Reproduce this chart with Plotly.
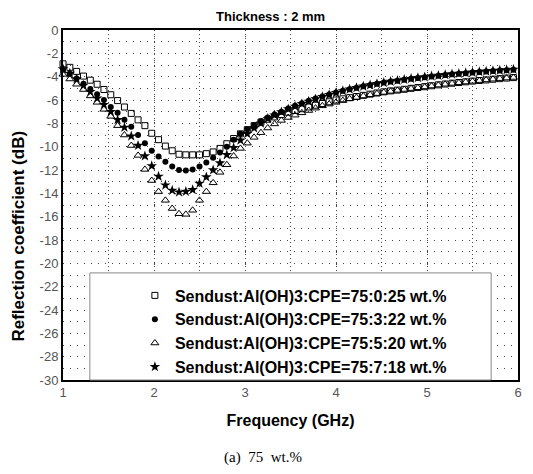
import plotly.graph_objects as go

freq = [1.000, 1.075, 1.150, 1.225, 1.300, 1.375, 1.450, 1.525, 1.600, 1.675,
        1.750, 1.825, 1.900, 1.975, 2.050, 2.125, 2.200, 2.275, 2.350, 2.425,
        2.500, 2.575, 2.650, 2.725, 2.800, 2.875, 2.950, 3.025, 3.100, 3.175,
        3.250, 3.325, 3.400, 3.475, 3.550, 3.625, 3.700, 3.775, 3.850, 3.925,
        4.000, 4.075, 4.150, 4.225, 4.300, 4.375, 4.450, 4.525, 4.600, 4.675,
        4.750, 4.825, 4.900, 4.975, 5.050, 5.125, 5.200, 5.275, 5.350, 5.425,
        5.500, 5.575, 5.650, 5.725, 5.800, 5.875, 5.950]

rc_0_25 = [-2.9, -3.2, -3.55, -3.95, -4.3, -4.65, -5.1, -5.55, -6.05, -6.6,
           -7.15, -7.7, -8.2, -8.85, -9.4, -9.95, -10.35, -10.65, -10.7, -10.7,
           -10.7, -10.6, -10.45, -10.15, -9.75, -9.3, -8.9, -8.55, -8.2, -7.9,
           -7.65, -7.45, -7.25, -7.05, -6.9, -6.75, -6.6, -6.45, -6.3, -6.15,
           -6.0, -5.9, -5.8, -5.7, -5.6, -5.5, -5.4, -5.3, -5.22, -5.15,
           -5.08, -5.0, -4.93, -4.86, -4.78, -4.7, -4.63, -4.56, -4.5, -4.44,
           -4.38, -4.33, -4.28, -4.22, -4.17, -4.12, -4.08]

rc_3_22 = [-3.4, -3.75, -4.15, -4.6, -5.05, -5.5, -6.0, -6.6, -7.1, -7.7,
           -8.3, -9.0, -9.7, -10.35, -10.85, -11.3, -11.7, -12.0, -12.05, -11.95,
           -11.7, -11.35, -10.95, -10.5, -10.0, -9.4, -8.9, -8.5, -8.15, -7.8,
           -7.5, -7.25, -7.0, -6.72, -6.5, -6.28, -6.07, -5.88, -5.7, -5.52,
           -5.36, -5.21, -5.07, -4.94, -4.82, -4.71, -4.61, -4.51, -4.42, -4.34,
           -4.26, -4.18, -4.11, -4.04, -3.98, -3.92, -3.86, -3.8, -3.75, -3.7,
           -3.65, -3.6, -3.56, -3.52, -3.48, -3.44, -3.4]

rc_5_20 = [-3.8, -4.2, -4.65, -5.1, -5.65, -6.2, -6.8, -7.4, -8.2, -9.0,
           -9.9, -10.75, -11.95, -12.9, -13.85, -14.6, -15.3, -15.75, -15.8, -15.45,
           -14.6, -13.85, -13.1, -12.2, -11.55, -10.8, -10.15, -9.7, -9.2, -8.8,
           -8.4, -8.05, -7.75, -7.5, -7.3, -7.1, -6.9, -6.7, -6.5, -6.35,
           -6.2, -6.05, -5.9, -5.78, -5.66, -5.55, -5.45, -5.35, -5.26, -5.18,
           -5.1, -5.02, -4.95, -4.88, -4.8, -4.72, -4.65, -4.58, -4.52, -4.46,
           -4.4, -4.34, -4.28, -4.22, -4.17, -4.12, -4.07]

rc_7_18 = [-3.35, -3.72, -4.2, -4.75, -5.3, -5.85, -6.4, -7.0, -7.7, -8.35,
           -9.1, -9.9, -10.8, -11.65, -12.55, -13.3, -13.75, -13.9, -13.85, -13.7,
           -13.15, -12.6, -12.0, -11.4, -10.7, -10.1, -9.45, -8.9, -8.4, -8.0,
           -7.6, -7.3, -7.03, -6.78, -6.55, -6.33, -6.12, -5.92, -5.73, -5.55,
           -5.38, -5.22, -5.08, -4.95, -4.83, -4.72, -4.61, -4.51, -4.42, -4.33,
           -4.25, -4.17, -4.1, -4.03, -3.96, -3.9, -3.84, -3.78, -3.73, -3.68,
           -3.63, -3.58, -3.54, -3.5, -3.46, -3.42, -3.38]

series_names = ["Sendust:Al(OH)3:CPE=75:0:25 wt.%",
                "Sendust:Al(OH)3:CPE=75:3:22 wt.%",
                "Sendust:Al(OH)3:CPE=75:5:20 wt.%",
                "Sendust:Al(OH)3:CPE=75:7:18 wt.%"]

x_ticks = [1, 2, 3, 4, 5, 6]
y_ticks = [0, -2, -4, -6, -8, -10, -12, -14, -16, -18, -20, -22, -24, -26, -28, -30]
y_ticktext = [str(v) for v in y_ticks]

styles = [
    dict(symbol="square-open", size=6, color="black", line=dict(width=1, color="black")),
    dict(symbol="circle", size=6, color="black"),
    dict(symbol="triangle-up-open", size=7, color="black", line=dict(width=1, color="black")),
    dict(symbol="star", size=8, color="black"),
]

fig = go.Figure()
for name, vals, st in zip(series_names, [rc_0_25, rc_3_22, rc_5_20, rc_7_18], styles):
    fig.add_trace(go.Scatter(x=freq, y=vals, mode="markers", name=name,
                             marker=st, cliponaxis=False))

tickfont = dict(family="Liberation Sans Narrow, Arial Narrow, Liberation Sans, sans-serif",
                size=13, color="#555555")
sans = "Liberation Sans, Arial, sans-serif"

fig.update_layout(
    width=525, height=466,
    margin=dict(l=55, r=11, t=22, b=94),
    paper_bgcolor="white", plot_bgcolor="white",
    showlegend=True,
    legend=dict(x=0.158, y=0.29, xanchor="left", yanchor="top",
                bgcolor="rgba(0,0,0,0)", borderwidth=0,
                font=dict(family=sans, size=16, color="black", weight="bold"),
                tracegroupgap=0, itemsizing="trace"),
    xaxis=dict(range=[1, 6], tickvals=x_ticks, ticktext=[str(v) for v in x_ticks],
               tickfont=tickfont, ticks="", showline=True, linecolor="black", linewidth=1.5,
               mirror=True, showgrid=True, gridcolor="#444444", gridwidth=1,
               griddash="1px,5px", zeroline=False,
               minor=dict(dtick=0.5, tick0=1, showgrid=True, gridcolor="#444444",
                          griddash="1px,3px", gridwidth=1),
               title=dict(text="Frequency (GHz)", standoff=15,
                          font=dict(family=sans, size=16, color="black", weight="bold"))),
    yaxis=dict(range=[-30, 0], tickvals=y_ticks, ticktext=y_ticktext,
               tickfont=tickfont, ticks="", showline=True, linecolor="black", linewidth=2,
               mirror=True, showgrid=True, gridcolor="#444444", gridwidth=1,
               griddash="1px,6px", zeroline=False,
               minor=dict(dtick=1, tick0=0, showgrid=True, gridcolor="#444444",
                          griddash="1px,6px", gridwidth=1)),
    shapes=[dict(type="rect", xref="paper", yref="paper", x0=0.059, x1=0.941, y0=0.0, y1=0.306,
                 fillcolor="white", line=dict(color="#888888", width=1), layer="above")],
    annotations=[
        dict(text="<b>Thickness : 2 mm</b>", xref="paper", yref="paper", x=0.457, y=1.0,
             xanchor="center", yanchor="middle", yshift=14, showarrow=False,
             font=dict(family=sans, size=13, color="black")),
        dict(text="<b>Reflection coefficient (dB)</b>", xref="paper", yref="paper",
             x=-0.098, y=0.411, xanchor="center", yanchor="middle", textangle=-90,
             showarrow=False, font=dict(family=sans, size=17, color="black")),
        dict(text="(a)  75  wt.%", xref="paper", yref="paper", x=0.44, y=-0.22,
             xanchor="center", yanchor="middle", showarrow=False,
             font=dict(family="Liberation Serif, Times New Roman, serif", size=15, color="black")),
    ],
)

fig.write_html("out.html")
